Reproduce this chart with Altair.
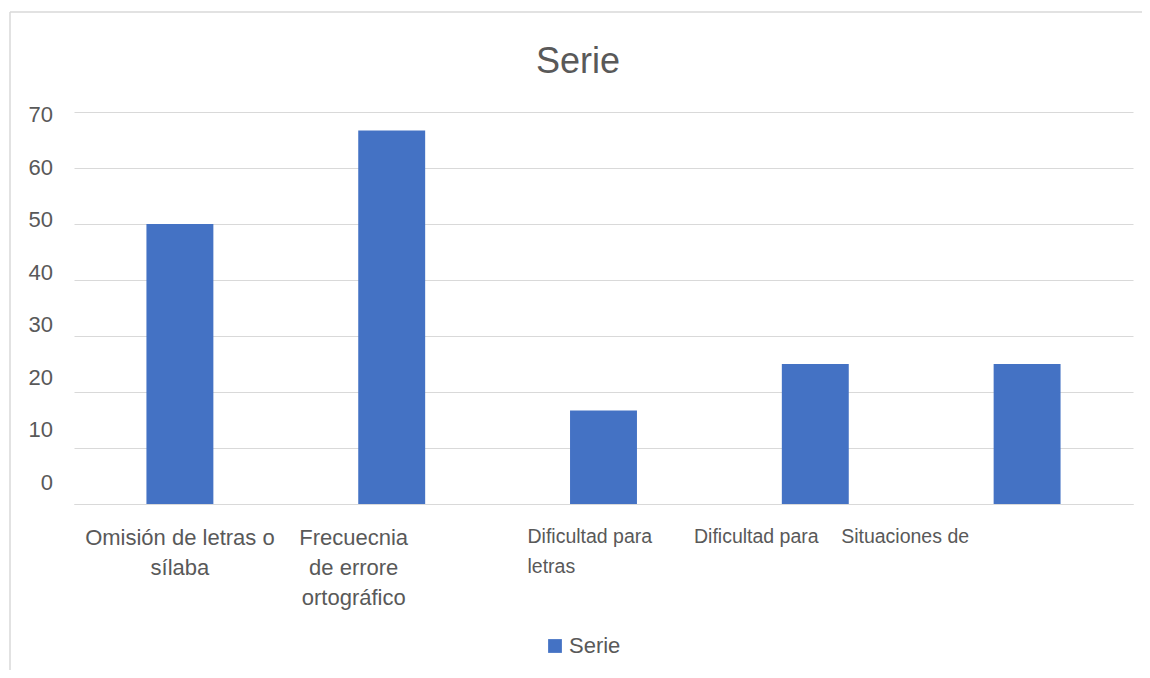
import json
import altair as alt
import pandas as pd

# ---- data ----
categories = [
    "Omisión de letras o sílaba",
    "Frecuecnia de errore ortográfico",
    "Dificultad para letras",
    "Dificultad para",
    "Situaciones de",
]
label_lines = [
    ["Omisión de letras o", "sílaba"],
    ["Frecuecnia", "de errore", "ortográfico"],
    ["Dificultad para", "letras"],
    ["Dificultad para"],
    ["Situaciones de"],
]
values = [50, 66.7, 16.7, 25, 25]
series_name = "Serie"
chart_title = "Serie"
y_ticks = [0, 10, 20, 30, 40, 50, 60, 70]

df = pd.DataFrame({"cat": categories, "value": values, "serie": [series_name] * len(categories)})
ticks_df = pd.DataFrame({"t": y_ticks})

FONT = "Liberation Sans"
TXT = "#595959"
GRID = "#d9d9d9"
BAR = "#4472C4"

W, H = 1059, 392

label_map = {c: l for c, l in zip(categories, label_lines)}
label_expr = json.dumps(label_map, ensure_ascii=False) + "[datum.label]"


def is_cat(c):
    return "datum.value === " + json.dumps(c, ensure_ascii=False)


# per-label styling tweaks
offsets = {categories[1]: -38, categories[2]: -76, categories[3]: -59, categories[4]: -122}
offset_cond = [{"test": is_cat(k), "value": v} for k, v in offsets.items()]
align_cond = {"condition": {"test": is_cat(categories[2]), "value": "left"}, "value": "center"}
narrow_test = " || ".join(is_cat(c) for c in categories[2:])
size_cond = {"condition": {"test": narrow_test, "value": 19.5}, "value": 22}

bars = alt.Chart(df).mark_bar(color=BAR).encode(
    x=alt.X("cat:N", sort=categories, title=None,
            scale=alt.Scale(paddingInner=0.684, paddingOuter=0.342),
            axis=alt.Axis(labelExpr=label_expr, labelAngle=0, labelFont=FONT, labelFontSize=size_cond,
                          labelColor=TXT, labelBaseline="top", labelPadding=23, labelLineHeight=30,
                          labelAlign=align_cond,
                          labelOffset={"condition": offset_cond, "value": 0},
                          ticks=False, domainColor=GRID, domainWidth=1, labelLimit=400)),
    y=alt.Y("value:Q", title=None, scale=alt.Scale(domain=[0, 70], nice=False),
            axis=alt.Axis(values=y_ticks, grid=True, gridColor=GRID, gridWidth=1,
                          labels=False, ticks=False, domain=False)),
    color=alt.Color("serie:N", scale=alt.Scale(range=[BAR]),
                    legend=alt.Legend(title=None, orient="none", legendX=470, legendY=523,
                                      symbolType="square", symbolSize=190, symbolStrokeWidth=0,
                                      labelFont=FONT, labelFontSize=22, labelColor=TXT,
                                      labelOffset=3, padding=0)),
)

ylabels = alt.Chart(ticks_df).mark_text(align="right", baseline="middle", font=FONT,
                                        fontSize=22, color=TXT).encode(
    x=alt.value(-21),
    y=alt.Y("t:Q", scale=alt.Scale(domain=[-4.0, 70.57], nice=False, zero=False), axis=None),
    text=alt.Text("t:Q"),
)

title_mark = alt.Chart(alt.Data(values=[{"title": chart_title}])).mark_text(
    align="center", baseline="alphabetic", font=FONT, fontSize=36, color=TXT).encode(
    x=alt.value(504), y=alt.value(-39), text="title:N")

frame_data = alt.Data(values=[{"k": 1}])
top_rule = alt.Chart(frame_data).mark_rule(color=GRID, strokeWidth=1.5).encode(
    x=alt.value(-64), x2=alt.value(1090), y=alt.value(-100))
left_rule = alt.Chart(frame_data).mark_rule(color=GRID, strokeWidth=1.5).encode(
    x=alt.value(-64), y=alt.value(-100), y2=alt.value(580))

chart = alt.layer(bars, ylabels, title_mark, top_rule, left_rule).resolve_scale(
    y="independent").properties(
    width=W, height=H,
    autosize=alt.AutoSizeParams(type="none"),
    padding={"left": 66, "top": 104, "right": 9, "bottom": 166},
).configure_view(strokeWidth=0)

chart.save("out.html", embed_options={"renderer": "svg", "actions": False})
